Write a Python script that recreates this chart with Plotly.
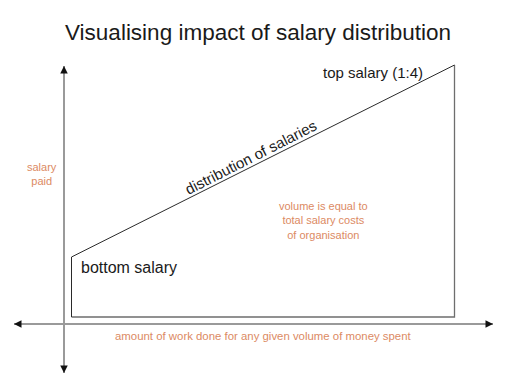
import plotly.graph_objects as go

# ---- data ----
workforce_share = [0.0, 1.0]          # from bottom-paid to top-paid staff
salary_levels = [1.0, 4.2]            # bottom salary -> top salary (about 1:4)
title_text = "Visualising impact of salary distribution"
label_top = "top salary (1:4)"
label_bottom = "bottom salary"
label_line = "distribution of salaries"
label_volume = "volume is equal to<br>total salary costs<br>of organisation"
label_x = "amount of work done for any given volume of money spent"
label_y = "salary paid"

W, H = 520, 389
ORANGE = "#dc8a63"
FONT = "Liberation Sans, Arial, sans-serif"

# pixel frame of the drawing (layout)
x0_px, x1_px = 71.5, 454.5
y0_px, unit_px = 317.0, 60.0
sx = (x1_px - x0_px) / (workforce_share[1] - workforce_share[0])
xr = [(0 - x0_px) / sx, (W - x0_px) / sx]
yr = [(y0_px - H) / unit_px, y0_px / unit_px]

def px_x(p):
    return (p - x0_px) / sx

def px_y(p):
    return (y0_px - p) / unit_px

fig = go.Figure()

# outline of the volume: bottom and right edges (grey)
fig.add_trace(go.Scatter(
    x=[workforce_share[0], workforce_share[1], workforce_share[1]],
    y=[0, 0, salary_levels[1]],
    mode="lines", line=dict(color="#6e6e6e", width=1.3),
    hoverinfo="skip", showlegend=False))
# left edge + distribution line (dark)
fig.add_trace(go.Scatter(
    x=[workforce_share[0], workforce_share[0], workforce_share[1]],
    y=[0, salary_levels[0], salary_levels[1]],
    mode="lines", line=dict(color="#2a2a2a", width=1),
    hoverinfo="skip", showlegend=False))

# axes (grey lines with black arrowheads)
vx = px_x(64)
hy = px_y(324)
vy_top, vy_bot = px_y(66), px_y(373)
hx_left, hx_right = px_x(14), px_x(493)
shapes = [
    dict(type="line", x0=vx, x1=vx, y0=vy_bot, y1=vy_top, xref="x", yref="y",
         line=dict(color="#9a9a9a", width=2)),
    dict(type="line", x0=hx_left, x1=hx_right, y0=hy, y1=hy, xref="x", yref="y",
         line=dict(color="#9a9a9a", width=2)),
]
annotations = []
for (x, y, ax, ay) in [(vx, vy_top, 0, 7), (vx, vy_bot, 0, -7),
                       (hx_left, hy, 7, 0), (hx_right, hy, -7, 0)]:
    annotations.append(dict(x=x, y=y, xref="x", yref="y", ax=ax, ay=ay,
                            text="", showarrow=True, arrowhead=2,
                            arrowsize=1, arrowwidth=1.5, arrowcolor="#111"))

def txt(text, xp, yp, size, color, angle=0):
    annotations.append(dict(text=text, x=xp / W, y=1 - yp / H, xref="paper",
                            yref="paper", showarrow=False, textangle=angle,
                            xanchor="center", yanchor="middle", align="center",
                            font=dict(family=FONT, size=size, color=color)))

txt(title_text, 258, 32, 22.5, "#1a1a1a")
txt(label_top, 372.5, 72, 15, "#1a1a1a")
txt(label_bottom, 129, 267, 16, "#1a1a1a")
txt(label_line, 250, 157, 15, "#1a1a1a", angle=-27)
txt(label_volume, 323, 220, 11, ORANGE)
txt(label_x, 263, 336, 11.4, ORANGE)
txt(label_y.replace(" ", "<br>"), 42, 173.5, 11, ORANGE)

fig.update_layout(
    width=W, height=H, margin=dict(l=0, r=0, t=0, b=0),
    paper_bgcolor="white", plot_bgcolor="white",
    xaxis=dict(range=xr, visible=False, fixedrange=True),
    yaxis=dict(range=yr, visible=False, fixedrange=True),
    shapes=shapes, annotations=annotations, showlegend=False)

fig.write_html("out.html", config={"displayModeBar": False},
               post_script="document.body.style.margin='0';")
